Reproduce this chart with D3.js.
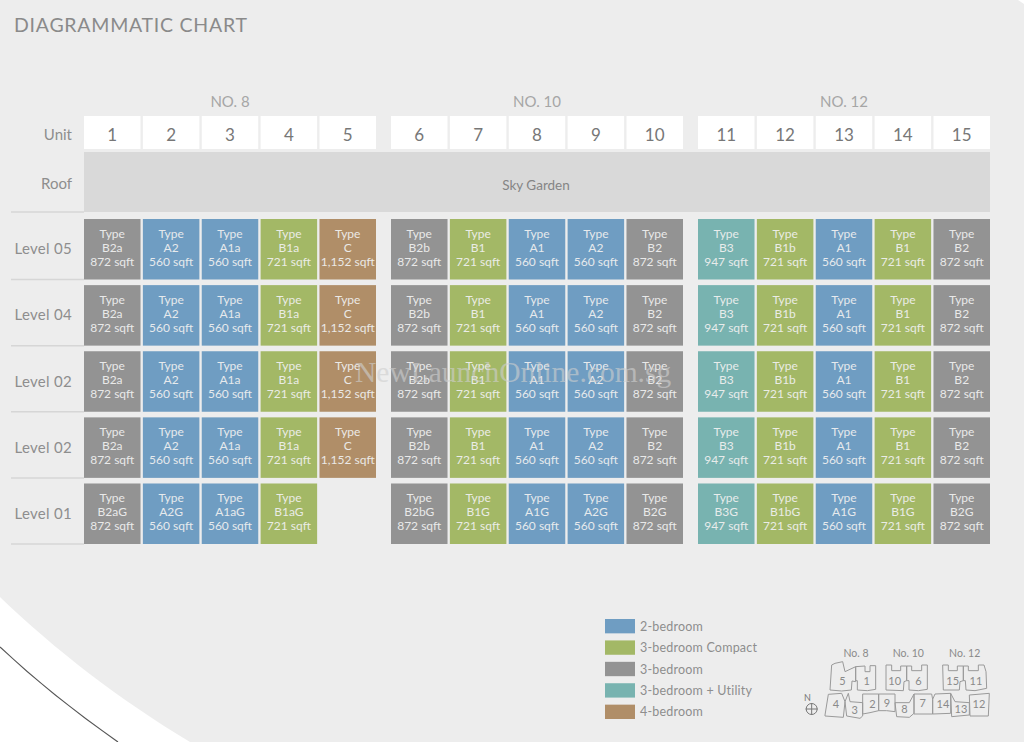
<!DOCTYPE html>
<html>
<head>
<meta charset="utf-8"/>
<script src="https://d3js.org/d3.v7.min.js"></script>
<style>
	html, body { margin: 0; padding: 0; background: #fff; overflow: hidden; }
	svg { display: block; }
	text { font-family: Lato, "Open Sans", sans-serif; }
</style>
</head>
<body>
<div id="chart"></div>
<script>
// chart values
var buildings = ["NO. 8", "NO. 10", "NO. 12"];
var buildingUnits = [[1,2,3,4,5], [6,7,8,9,10], [11,12,13,14,15]];
var levels = ["Level 05", "Level 04", "Level 02", "Level 02", "Level 01"];
var upperTypes = ["B2a","A2","A1a","B1a","C","B2b","B1","A1","A2","B2","B3","B1b","A1","B1","B2"];
var groundTypes = ["B2aG","A2G","A1aG","B1aG",null,"B2bG","B1G","A1G","A2G","B2G","B3G","B1bG","A1G","B1G","B2G"];
var unitSizes = ["872","560","560","721","1,152","872","721","560","560","872","947","721","560","721","872"];
var unitCategories = [2,0,0,1,4,2,1,0,0,2,3,1,0,1,2];
var categories = ["2-bedroom","3-bedroom Compact","3-bedroom","3-bedroom + Utility","4-bedroom"];
var categoryColours = ["#6f9dc2","#a3b866","#939393","#78b3b0","#b08e68"];

// key plan, traced in zoomed pixels
var planBlocks = [
	[[150,180],[155,105],[165,100],[188,95],[195,125],[227,110],[227,155],[216,153],[214,180],[185,183]],
	[[227,110],[255,108],[255,125],[270,125],[270,107],[287,107],[287,178],[262,182],[232,180],[232,152],[227,152]],
	[[318,105],[335,105],[335,122],[362,122],[362,108],[380,108],[380,152],[372,155],[370,182],[318,180]],
	[[380,108],[395,108],[395,122],[425,122],[425,105],[442,105],[442,178],[415,182],[387,180],[387,152],[380,152]],
	[[488,105],[505,105],[505,122],[532,122],[532,108],[550,108],[550,152],[540,155],[538,180],[490,180]],
	[[550,108],[565,108],[565,122],[595,122],[595,105],[612,105],[618,125],[620,175],[585,182],[558,180],[556,152],[550,152]],
	[[135,255],[145,193],[185,190],[195,215],[190,262],[135,258]],
	[[195,215],[205,190],[210,215],[248,218],[248,258],[240,265],[200,258]],
	[[248,192],[296,192],[296,242],[270,248],[248,252]],
	[[296,192],[345,192],[345,245],[320,242],[296,242]],
	[[345,218],[388,218],[402,192],[402,250],[388,262],[350,260]],
	[[402,192],[455,192],[458,208],[458,252],[402,252]],
	[[458,208],[465,192],[512,190],[512,250],[458,252]],
	[[512,190],[525,215],[568,218],[568,255],[515,260]],
	[[568,195],[628,190],[625,258],[570,258]]
];
var planLabels = [["5",187,152],["1",260,152],["10",344,152],["6",415,152],["15",518,152],["11",588,152],
	["4",168,221],["3",224,240],["2",277,222],["9",321,220],["8",373,238],["7",428,220],["14",489,221],["13",543,238],["12",597,221]];
var planTitles = [["No. 8",228,68],["No. 10",385,68],["No. 12",554,68]];

var W = 1024, H = 742;
var textGrey = "#8e8e8e";

var svg = d3.select("#chart").append("svg").attr("width", W).attr("height", H);

// page background with the white swoosh in the lower left
svg.append("rect").attr("width", W).attr("height", H).attr("fill", "#ffffff");
svg.append("path")
	.attr("d", "M0,597 C55,650 120,700 190,742 L1024,742 L1024,4 L1018,0 L0,0 Z")
	.attr("fill", "#ededed");
svg.append("path")
	.attr("d", "M0,647 C35,680 75,712 118,742")
	.attr("fill", "none").attr("stroke", "#555").attr("stroke-width", 1.2);

svg.append("text").attr("x", 14).attr("y", 32)
	.attr("font-size", 19.5).attr("letter-spacing", 0.75).attr("fill", "#8a8a8a")
	.text("DIAGRAMMATIC CHART");

// one band scale per block of units
var blockRanges = [[84,376], [391,683], [698,990]];
var xScales = buildingUnits.map(function(u, i) {
	return d3.scaleBand().domain(u).range(blockRanges[i]).paddingInner(0.04);
});
var unitX = function(idx) { // idx is 0-14
	var b = Math.floor(idx/5);
	return xScales[b](buildingUnits[b][idx%5]);
};
var bw = xScales[0].bandwidth();

var yLevel = d3.scaleBand().domain(d3.range(levels.length)).range([219,544]).paddingInner(0.085);

// building headings and unit numbers
buildings.forEach(function(name, i) {
	svg.append("text").attr("x", (blockRanges[i][0]+blockRanges[i][1])/2).attr("y", 107)
		.attr("text-anchor", "middle").attr("font-size", 15).attr("fill", "#a6a6a6").text(name);
	buildingUnits[i].forEach(function(u) {
		svg.append("rect").attr("x", xScales[i](u)).attr("y", 116).attr("width", xScales[i].bandwidth()).attr("height", 33).attr("fill", "#fff");
		svg.append("text").attr("x", xScales[i](u)+bw/2).attr("y", 141)
			.attr("text-anchor", "middle").attr("font-size", 17).attr("fill", "#777").text(u);
	});
});

// left hand labels
var labelRight = 72;
svg.append("text").attr("x", labelRight).attr("y", 140).attr("text-anchor", "end")
	.attr("font-size", 15).attr("fill", textGrey).text("Unit");
svg.append("text").attr("x", labelRight).attr("y", 189).attr("text-anchor", "end")
	.attr("font-size", 15).attr("fill", textGrey).text("Roof");

svg.append("rect").attr("x", 84).attr("y", 152).attr("width", 906).attr("height", 60).attr("fill", "#d9d9d9");
svg.append("text").attr("x", 536).attr("y", 190).attr("text-anchor", "middle")
	.attr("font-size", 13.5).attr("fill", "#858585").text("Sky Garden");

svg.append("line").attr("x1", 11).attr("x2", 84).attr("y1", 212).attr("y2", 212).attr("stroke", "#d6d6d6").attr("stroke-width", 1.5);

levels.forEach(function(name, r) {
	var top = yLevel(r), bh = yLevel.bandwidth();
	svg.append("line").attr("x1", 11).attr("x2", 84).attr("y1", top+bh).attr("y2", top+bh)
		.attr("stroke", "#d6d6d6").attr("stroke-width", 1.5);
	svg.append("text").attr("x", labelRight).attr("y", top+bh/2+5).attr("text-anchor", "end")
		.attr("font-size", 15).attr("letter-spacing", 0.3).attr("fill", textGrey).text(name);

	var types = r == levels.length-1 ? groundTypes : upperTypes;
	types.forEach(function(t, c) {
		if (!t) return;
		var cell = svg.append("g").attr("transform", "translate(" + unitX(c) + "," + top + ")");
		cell.append("rect").attr("width", bw).attr("height", bh).attr("fill", categoryColours[unitCategories[c]]);
		["Type", t, unitSizes[c] + " sqft"].forEach(function(line, k) {
			cell.append("text").attr("x", bw/2).attr("y", 19+k*14)
				.attr("text-anchor", "middle").attr("font-size", 12).attr("fill", "#f1f1f1")
				.attr("opacity", 0.92).text(line);
		});
	});
});

// watermark
svg.append("text").attr("x", 355).attr("y", 382)
	.style("font-family", "'Liberation Serif', serif")
	.attr("font-size", 29.5).attr("fill", "#cfcfcf").attr("opacity", 0.6)
	.text("NewLaunchOnline.com.sg");

// legend
var yLegend = d3.scaleBand().domain(categories).range([619,719]).paddingInner(0.33);
categories.forEach(function(name, i) {
	svg.append("rect").attr("x", 605).attr("y", yLegend(name)).attr("width", 30).attr("height", yLegend.bandwidth()).attr("fill", categoryColours[i]);
	svg.append("text").attr("x", 640).attr("y", yLegend(name)+yLegend.bandwidth()/2+4.5)
		.attr("font-size", 12.5).attr("letter-spacing", 0.2).attr("fill", textGrey).text(name);
});

// key plan
var px = d3.scaleLinear().domain([0,732]).range([780,1024]);
var py = d3.scaleLinear().domain([0,336]).range([630,742]);
var planLine = d3.line().x(function(d) { return px(d[0]); }).y(function(d) { return py(d[1]); }).curve(d3.curveLinearClosed);
planBlocks.forEach(function(b) {
	svg.append("path").attr("d", planLine(b)).attr("fill", "none").attr("stroke", "#9a9a9a").attr("stroke-width", 1);
});
planLabels.forEach(function(d) {
	svg.append("text").attr("x", px(d[1])).attr("y", py(d[2])+4).attr("text-anchor", "middle")
		.attr("font-size", 11).attr("fill", "#8a8a8a").text(d[0]);
});
planTitles.forEach(function(d) {
	svg.append("text").attr("x", px(d[1])).attr("y", py(d[2])+4).attr("text-anchor", "middle")
		.attr("font-size", 10.5).attr("fill", "#8a8a8a").text(d[0]);
});
svg.append("text").attr("x", px(82)).attr("y", py(212)).attr("text-anchor", "middle").attr("font-size", 9).attr("fill", "#777").text("N");
svg.append("circle").attr("cx", px(95)).attr("cy", py(237)).attr("r", 5.5).attr("fill", "none").attr("stroke", "#777");
svg.append("path").attr("d", "M" + px(77) + "," + py(237) + "H" + px(113) + "M" + px(95) + "," + py(219) + "V" + py(255))
	.attr("stroke", "#777").attr("fill", "none");
</script>
</body>
</html>
